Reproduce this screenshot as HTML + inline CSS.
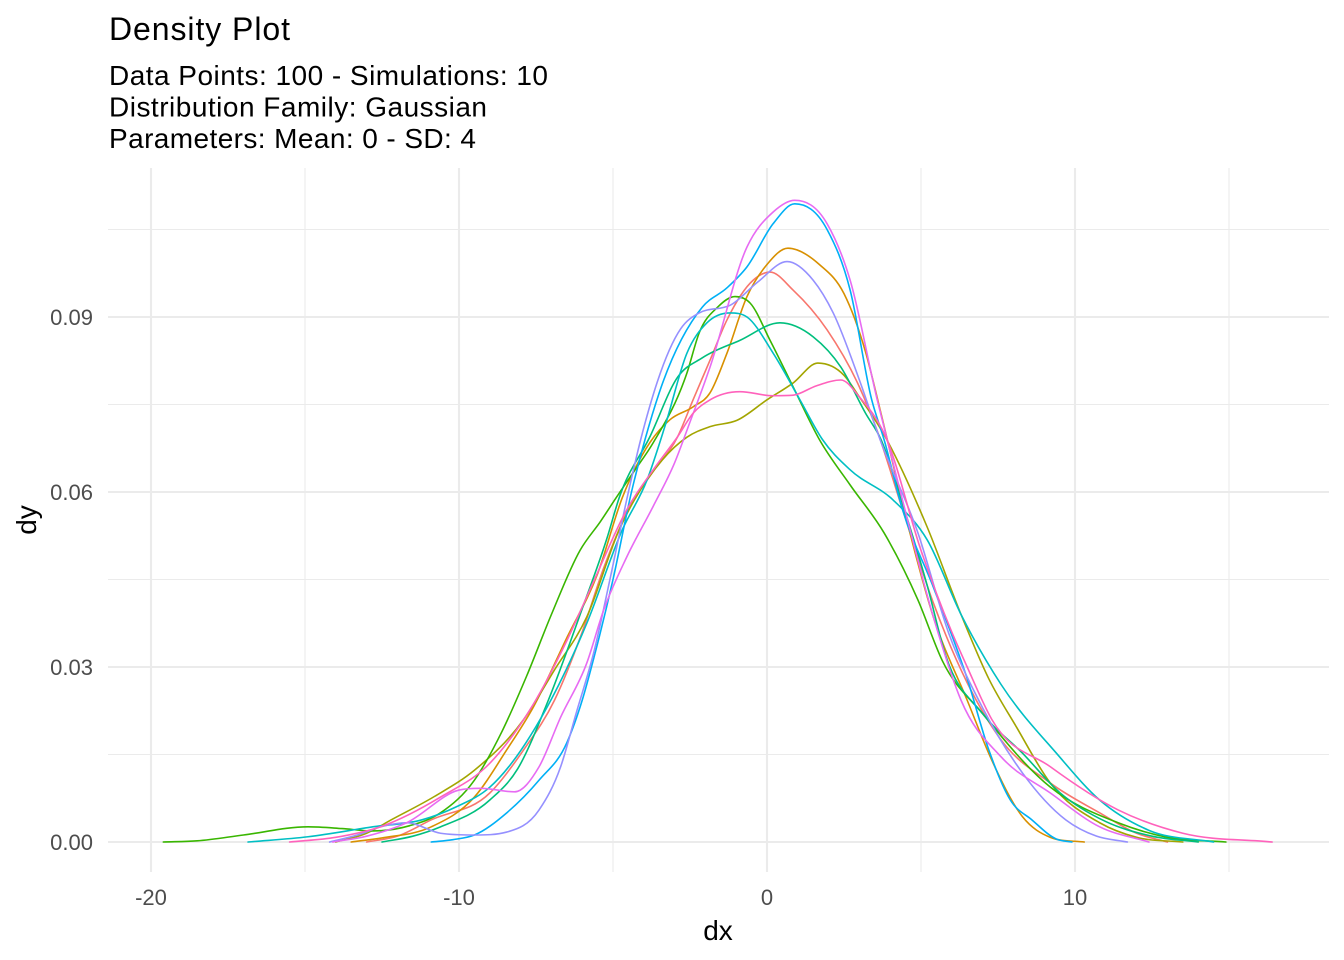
<!DOCTYPE html>
<html>
<head>
<meta charset="utf-8">
<style>
  html,body{margin:0;padding:0;background:#fff;}
  svg{display:block;}
  text{font-family:"Liberation Sans",Arial,sans-serif;}
</style>
</head>
<body>
<svg id="chart" width="1344" height="960" viewBox="0 0 1344 960" xmlns="http://www.w3.org/2000/svg">
  <rect x="0" y="0" width="1344" height="960" fill="#ffffff"/>
  <!-- minor gridlines -->
  <g stroke="#EBEBEB" stroke-width="1.1" fill="none">
    <line x1="108" y1="754.5" x2="1329" y2="754.5"/>
    <line x1="108" y1="579.5" x2="1329" y2="579.5"/>
    <line x1="108" y1="404.5" x2="1329" y2="404.5"/>
    <line x1="108" y1="229.5" x2="1329" y2="229.5"/>
    <line x1="305" y1="168" x2="305" y2="872"/>
    <line x1="613" y1="168" x2="613" y2="872"/>
    <line x1="921" y1="168" x2="921" y2="872"/>
    <line x1="1229" y1="168" x2="1229" y2="872"/>
  </g>
  <!-- major gridlines -->
  <g stroke="#EBEBEB" stroke-width="2.1" fill="none">
    <line x1="108" y1="842" x2="1329" y2="842"/>
    <line x1="108" y1="667" x2="1329" y2="667"/>
    <line x1="108" y1="492" x2="1329" y2="492"/>
    <line x1="108" y1="317" x2="1329" y2="317"/>
    <line x1="151" y1="168" x2="151" y2="872"/>
    <line x1="459" y1="168" x2="459" y2="872"/>
    <line x1="767" y1="168" x2="767" y2="872"/>
    <line x1="1075" y1="168" x2="1075" y2="872"/>
  </g>
  <g id="curves" fill="none" stroke-width="1.6" stroke-linejoin="round" stroke-linecap="round"></g>

  <!-- Title & subtitle -->
  <text x="109" y="40" font-size="32" fill="#000" textLength="181" lengthAdjust="spacing">Density Plot</text>
  <text x="109" y="85" font-size="28" fill="#000" textLength="439" lengthAdjust="spacing">Data Points: 100 - Simulations: 10</text>
  <text x="109" y="116.5" font-size="28" fill="#000" textLength="378" lengthAdjust="spacing">Distribution Family: Gaussian</text>
  <text x="109" y="148" font-size="28" fill="#000" textLength="367" lengthAdjust="spacing">Parameters: Mean: 0 - SD: 4</text>

  <!-- y tick labels -->
  <g font-size="22" fill="#4D4D4D" text-anchor="end">
    <text x="93" y="850">0.00</text>
    <text x="93" y="675">0.03</text>
    <text x="93" y="500">0.06</text>
    <text x="93" y="325">0.09</text>
  </g>
  <!-- x tick labels -->
  <g font-size="22" fill="#4D4D4D" text-anchor="middle">
    <text x="151" y="905">-20</text>
    <text x="459" y="905">-10</text>
    <text x="767" y="905">0</text>
    <text x="1075" y="905">10</text>
  </g>
  <!-- axis titles -->
  <text x="718" y="940" font-size="28" fill="#000" text-anchor="middle">dx</text>
  <text x="0" y="0" font-size="28" fill="#000" text-anchor="middle" transform="translate(36,520) rotate(-90)">dy</text>
</svg>
<script>
(function(){
  var X = function(x){ return 767 + 30.8*x; };
  var Y = function(y){ return 842 - 5833.3*y; };
  var curves = [
    ['#F8766D', [[-13,0],[-12,0.001],[-10.9,0.0038],[-9.0,0.0084],[-7.9,0.0158],[-6.9,0.0243],[-6.0,0.036],[-5.3,0.047],[-4.5,0.057],[-3.7,0.0635],[-2.9,0.0695],[-2.4,0.0758],[-1.85,0.0826],[-1.3,0.0895],[-0.45,0.0963],[0.1,0.0977],[0.85,0.0946],[1.95,0.0878],[3.0,0.078],[3.57,0.0706],[4.4,0.057],[5.4,0.041],[6.5,0.0273],[7.6,0.0175],[9.2,0.0101],[10.8,0.005],[12,0.0015],[13,0]]],
    ['#D89000', [[-13.5,0],[-12.5,0.0007],[-10.9,0.0026],[-9.5,0.0077],[-8.45,0.0158],[-7.6,0.023],[-6.5,0.035],[-5.5,0.046],[-4.7,0.059],[-3.8,0.0685],[-3.15,0.0724],[-2.4,0.0746],[-1.85,0.077],[-1.3,0.0838],[-0.65,0.0935],[0,0.099],[0.68,0.1018],[1.7,0.099],[2.5,0.094],[3.2,0.084],[3.7,0.0735],[4.4,0.058],[5.4,0.0386],[6.5,0.0243],[7.3,0.014],[8.3,0.0043],[9.2,0.0008],[10.3,0]]],
    ['#A3A500', [[-14,0],[-13,0.0015],[-12.2,0.0038],[-10.8,0.0078],[-9.5,0.0123],[-7.9,0.021],[-6.9,0.0295],[-5.85,0.0386],[-4.8,0.0535],[-3.4,0.0655],[-2.6,0.0694],[-1.85,0.0712],[-0.97,0.0723],[0,0.0758],[0.85,0.0787],[1.65,0.0821],[2.5,0.080],[3.0,0.0763],[3.77,0.0701],[5.2,0.054],[6.3,0.039],[7.2,0.028],[8.1,0.0197],[9.2,0.0101],[10.8,0.0033],[12,0.0008],[13.5,0]]],
    ['#39B600', [[-19.6,0],[-18.5,0.0002],[-17,0.0012],[-14.9,0.0026],[-13.8,0.0023],[-12.8,0.0019],[-11.6,0.0028],[-10.6,0.005],[-9.5,0.0106],[-8.6,0.019],[-7.8,0.0285],[-7.0,0.039],[-6.07,0.050],[-5.4,0.055],[-4.9,0.059],[-4.35,0.0633],[-3.7,0.0684],[-2.6,0.0804],[-2.2,0.0873],[-1.6,0.0917],[-1.04,0.0935],[-0.55,0.0924],[0.1,0.086],[0.85,0.078],[1.7,0.069],[2.7,0.0612],[3.8,0.053],[4.9,0.0415],[5.7,0.031],[7.0,0.022],[9.2,0.0094],[11.4,0.0033],[13,0.0008],[14.9,0]]],
    ['#00BF7D', [[-12.5,0],[-11.5,0.001],[-10.6,0.0026],[-9.0,0.0072],[-8.1,0.0125],[-7.1,0.0243],[-6.0,0.040],[-5.2,0.052],[-4.8,0.059],[-3.8,0.0695],[-2.9,0.0797],[-2.1,0.083],[-0.88,0.086],[0.42,0.089],[1.5,0.0866],[2.4,0.0814],[3.2,0.0735],[3.7,0.069],[4.4,0.058],[5.2,0.044],[5.8,0.032],[7.0,0.022],[8.3,0.0152],[9.5,0.0085],[11,0.0035],[12.5,0.001],[14,0]]],
    ['#00BFC4', [[-16.85,0],[-14.9,0.0009],[-12.8,0.0026],[-11.2,0.0038],[-10.1,0.006],[-9,0.0094],[-7.0,0.0245],[-5.85,0.0375],[-4.7,0.0535],[-3.9,0.062],[-3.3,0.0715],[-2.6,0.0838],[-1.95,0.089],[-1.2,0.0907],[-0.65,0.090],[0.2,0.0838],[1.07,0.0758],[1.8,0.069],[2.7,0.0638],[4.1,0.0586],[5.2,0.0518],[6.3,0.039],[7.6,0.027],[9.4,0.0152],[10.8,0.0072],[12.4,0.002],[14.5,0]]],
    ['#00B0F6', [[-10.9,0],[-10.2,0.0004],[-9.5,0.0012],[-8.45,0.005],[-7.4,0.0106],[-6.5,0.017],[-6.0,0.0243],[-5.6,0.032],[-5.0,0.045],[-4.4,0.060],[-3.96,0.069],[-3.5,0.077],[-2.1,0.0917],[-1.3,0.095],[-0.65,0.0986],[0.2,0.106],[0.9,0.1094],[1.95,0.105],[2.7,0.0946],[3.4,0.0758],[3.8,0.069],[4.4,0.057],[5.4,0.0437],[6.5,0.028],[7.2,0.0158],[7.9,0.0072],[8.6,0.0038],[9.4,0.0005],[9.9,0]]],
    ['#9590FF', [[-14.2,0],[-13.3,0.0012],[-12.4,0.0028],[-11.7,0.0033],[-10.6,0.0015],[-9.5,0.0012],[-8.45,0.0017],[-7.4,0.0055],[-6.7,0.0129],[-6.2,0.022],[-5.6,0.033],[-5.1,0.045],[-4.5,0.060],[-4.1,0.069],[-2.8,0.088],[-2.2,0.0907],[-1.2,0.092],[-0.3,0.096],[0.65,0.0995],[1.5,0.0963],[2.15,0.0907],[3.0,0.0792],[3.67,0.069],[4.9,0.053],[5.9,0.0358],[7.0,0.023],[8.3,0.0118],[9.7,0.0038],[10.7,0.001],[11.7,0]]],
    ['#E76BF3', [[-14.1,0],[-13,0.001],[-11.7,0.0033],[-10,0.0089],[-9.3,0.0092],[-8.2,0.0086],[-7.4,0.0129],[-6.7,0.0214],[-5.85,0.0307],[-5.3,0.0398],[-4.55,0.0489],[-3.7,0.0575],[-3.0,0.065],[-2.5,0.072],[-1.85,0.0814],[-0.65,0.102],[0.2,0.108],[0.9,0.110],[1.95,0.106],[2.7,0.0963],[3.57,0.076],[3.9,0.069],[4.4,0.0586],[5.4,0.0386],[6.3,0.0243],[7.6,0.0146],[9.2,0.0084],[10.8,0.0026],[12.4,0]]],
    ['#FF62BC', [[-15.5,0],[-14,0.0008],[-12.5,0.0027],[-10.6,0.0077],[-9.0,0.0135],[-7.6,0.0235],[-6.5,0.0345],[-5.6,0.045],[-4.6,0.0565],[-3.6,0.0645],[-2.9,0.0695],[-2.4,0.0735],[-1.85,0.0758],[-0.88,0.0772],[0.2,0.0765],[0.85,0.0766],[1.6,0.0782],[2.4,0.0792],[3.0,0.0763],[3.85,0.0695],[5.0,0.050],[6.0,0.036],[6.5,0.030],[7.3,0.021],[9.2,0.0129],[11.4,0.0055],[13.5,0.0015],[16.4,0]]]
  ];
  function pathFor(pts){
    var n = pts.length, xs=[], ys=[], i;
    for(i=0;i<n;i++){ xs.push(pts[i][0]); ys.push(pts[i][1]); }
    var h=[], m=[];
    for(i=0;i<n-1;i++){ h.push(xs[i+1]-xs[i]); m.push((ys[i+1]-ys[i])/h[i]); }
    var t=new Array(n);
    t[0]=m[0]; t[n-1]=m[n-2];
    for(i=1;i<n-1;i++){
      if(m[i-1]*m[i]<=0) t[i]=0;
      else t[i]=(h[i]*m[i-1]+h[i-1]*m[i])/(h[i-1]+h[i]);
    }
    for(i=0;i<n-1;i++){
      if(m[i]===0){ t[i]=0; t[i+1]=0; continue; }
      var a=t[i]/m[i], b=t[i+1]/m[i], s=a*a+b*b;
      if(s>9){ var tau=3/Math.sqrt(s); t[i]=tau*a*m[i]; t[i+1]=tau*b*m[i]; }
    }
    var d = 'M'+X(xs[0]).toFixed(2)+','+Y(ys[0]).toFixed(2);
    for(i=0;i<n-1;i++){
      var c1x=xs[i]+h[i]/3, c1y=ys[i]+t[i]*h[i]/3;
      var c2x=xs[i+1]-h[i]/3, c2y=ys[i+1]-t[i+1]*h[i]/3;
      d += ' C'+X(c1x).toFixed(2)+','+Y(c1y).toFixed(2)+' '+X(c2x).toFixed(2)+','+Y(c2y).toFixed(2)+' '+X(xs[i+1]).toFixed(2)+','+Y(ys[i+1]).toFixed(2);
    }
    return d;
  }
  var g=document.getElementById('curves');
  var ns='http://www.w3.org/2000/svg';
  for(var k=0;k<curves.length;k++){
    var p=document.createElementNS(ns,'path');
    p.setAttribute('d',pathFor(curves[k][1]));
    p.setAttribute('stroke',curves[k][0]);
    g.appendChild(p);
  }
})();
</script>
</body>
</html>
